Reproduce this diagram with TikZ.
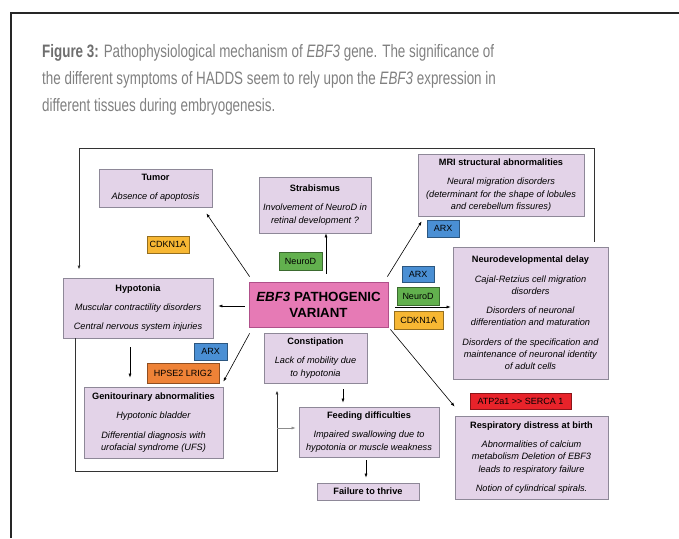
\documentclass[tikz,border=0pt]{standalone}
\usepackage{fontspec}
\setmainfont{Liberation Sans}
\newfontfamily\capfont[FakeStretch=0.745]{Liberation Sans}
\usetikzlibrary{arrows.meta,calc}
\definecolor{boxfill}{HTML}{E3D3E8}
\definecolor{boxline}{HTML}{8E8898}
\definecolor{ebffill}{HTML}{E67AB5}
\definecolor{ebfline}{HTML}{B0508A}
\definecolor{tagblue}{HTML}{4A8FD4}
\definecolor{taggreen}{HTML}{62B04E}
\definecolor{tagyellow}{HTML}{F7B733}
\definecolor{tagorange}{HTML}{EE8237}
\definecolor{tagred}{HTML}{E8232A}
\definecolor{capgray}{HTML}{808080}
\definecolor{capdark}{HTML}{6E6E6E}
\tikzset{
  sbox/.style={draw=boxline, fill=boxfill, line width=0.8pt, align=center,
    font=\fontsize{9.2}{12.3}\selectfont, inner sep=0pt},
  tagbox/.style={draw=#1!60!black, fill=#1, line width=0.6pt,
    font=\fontsize{9}{10}\selectfont, inner sep=0pt},
  arr/.style={-{Latex[length=4pt,width=3pt]}, line width=0.6pt},
  loopln/.style={line width=0.9pt, draw=black!80},
  capline/.style={anchor=base west, inner sep=0pt, text=capgray,
    font=\capfont\fontsize{18}{27}\selectfont},
}
\begin{document}
\begin{tikzpicture}[x=1pt,y=-1pt]
\useasboundingbox (0,0) rectangle (679,538);
% outer frame
\draw[line width=2pt, draw=black!85] (11,538) -- (11,13) -- (679,13);
% caption
\node[capline] (cap1) at (42,57) {\textcolor{capdark}{\textbf{Figure 3:}} Pathophysiological mechanism of \textit{EBF3} gene. The significance of};
\node[capline] (cap2) at (42,84) {the different symptoms of HADDS seem to rely upon the \textit{EBF3} expression in};
\node[capline] (cap3) at (42,111) {different tissues during embryogenesis.};

% main boxes
\node[sbox, minimum width=113, minimum height=38] (tumor) at (155.5,188)
  {\textbf{Tumor}\\[7pt]\textit{Absence of apoptosis}};
\node[sbox, minimum width=112, minimum height=56] (strab) at (315,205)
  {\textbf{Strabismus}\\[7pt]\textit{Involvement of NeuroD in}\\\textit{retinal development ?}};
\node[sbox, minimum width=166, minimum height=62] (mri) at (501,185)
  {\textbf{MRI structural abnormalities}\\[7pt]\textit{Neural migration disorders}\\\textit{(determinant for the shape of lobules}\\\textit{and cerebellum fissures)}};
\node[sbox, minimum width=150, minimum height=60] (hyp) at (138,308)
  {\textbf{Hypotonia}\\[7pt]\textit{Muscular contractility disorders}\\[7pt]\textit{Central nervous system injuries}};
\node[draw=ebfline, fill=ebffill, line width=0.8pt, minimum width=139, minimum height=45,
  inner sep=0pt, align=center, font=\bfseries\fontsize{13.3}{16}\selectfont] (ebf) at (318.5,304.5)
  {\textit{EBF3} PATHOGENIC\\VARIANT};
\node[sbox, minimum width=155, minimum height=132] (neuro) at (530.5,313)
  {\textbf{Neurodevelopmental delay}\\[7pt]\textit{Cajal-Retzius cell migration}\\\textit{disorders}\\[7pt]\textit{Disorders of neuronal}\\\textit{differentiation and maturation}\\[7pt]\textit{Disorders of the specification and}\\\textit{maintenance of neuronal identity}\\\textit{of adult cells}};
\node[sbox, minimum width=103, minimum height=50] (const) at (315.5,358)
  {\textbf{Constipation}\\[7pt]\textit{Lack of mobility due}\\\textit{to hypotonia}};
\node[sbox, minimum width=139, minimum height=71] (genito) at (153.5,422.5)
  {\textbf{Genitourinary abnormalities}\\[7pt]\textit{Hypotonic bladder}\\[7pt]\textit{Differential diagnosis with}\\\textit{urofacial syndrome (UFS)}};
\node[sbox, minimum width=140, minimum height=50] (feed) at (369,432)
  {\textbf{Feeding difficulties}\\[7pt]\textit{Impaired swallowing due to}\\\textit{hypotonia or muscle weakness}};
\node[sbox, minimum width=102, minimum height=17] (fail) at (368,491.5)
  {\textbf{Failure to thrive}};
\node[sbox, minimum width=153, minimum height=83] (resp) at (531.5,457.5)
  {\textbf{Respiratory distress at birth}\\[7pt]\textit{Abnormalities of calcium}\\\textit{metabolism Deletion of EBF3}\\\textit{leads to respiratory failure}\\[7pt]\textit{Notion of cylindrical spirals.}};

% tags
\node[tagbox=tagyellow, minimum width=42, minimum height=17] (cdkn1) at (168,244.5) {CDKN1A};
\node[tagbox=taggreen, minimum width=43, minimum height=18] (neurod1) at (300.5,261) {NeuroD};
\node[tagbox=tagblue, minimum width=32, minimum height=17] (arx1) at (443,228.5) {ARX};
\node[tagbox=tagblue, minimum width=32, minimum height=16] (arx2) at (418,274) {ARX};
\node[tagbox=taggreen, minimum width=42, minimum height=18] (neurod2) at (418,296) {NeuroD};
\node[tagbox=tagyellow, minimum width=49, minimum height=18] (cdkn2) at (418.5,320) {CDKN1A};
\node[tagbox=tagblue, minimum width=33, minimum height=17] (arx3) at (210.5,351.5) {ARX};
\node[tagbox=tagorange, minimum width=72, minimum height=20] (hpse) at (183,373) {HPSE2 LRIG2};
\node[tagbox=tagred, minimum width=101, minimum height=16] (atp) at (520.5,401) {ATP2a1 \mbox{>}\mbox{>} SERCA 1};

% arrows from EBF3
\draw[arr] ([shift={(1,-5)}]ebf.north west) -- ([shift={(-6,6)}]tumor.south east);
\draw[arr] ([shift={(7.5,-8)}]ebf.north) -- ([shift={(11,0)}]strab.south);
\draw[arr] ([shift={(-1,-5)}]ebf.north east) -- ([shift={(4,5)}]mri.south west);
\draw[arr] ([shift={(-4,1.5)}]ebf.west) -- ([shift={(5,-2)}]hyp.east);
\draw[arr] ([shift={(7,2.5)}]ebf.east) -- ([shift={(-2,-6)}]neuro.west);
\draw[arr] ([shift={(1,6)}]ebf.south west) -- ([shift={(0,-5)}]genito.north east);
\draw[arr] ([shift={(2,2)}]ebf.south east) -- ([shift={(0,-9)}]resp.north west);

% other arrows
\draw[arr] ([shift={(-8,9)}]hyp.south) -- ([shift={(-23.5,-9)}]genito.north);
\draw[arr] ([shift={(27.5,6)}]const.south) -- ([shift={(-26,-4)}]feed.north);
\draw[arr] ([shift={(-3,3)}]feed.south) -- ([shift={(-2,-5)}]fail.north);

% loops
\coordinate (tl) at (79,148);
\draw[arr, loopln] ([shift={(63.5,-5)}]neuro.north) |- (tl) -- ([shift={(-59,-8)}]hyp.north);
\coordinate (loopc) at (277,471);
\draw[arr, loopln] ([shift={(13,0)}]hyp.south west) |- (loopc) -- ([shift={(-38.5,7)}]const.south);
\coordinate (branch) at (277,428);
\draw[arr, draw=black!45] (branch) -- ([xshift=-3pt]feed.west |- branch);
\end{tikzpicture}
\end{document}
